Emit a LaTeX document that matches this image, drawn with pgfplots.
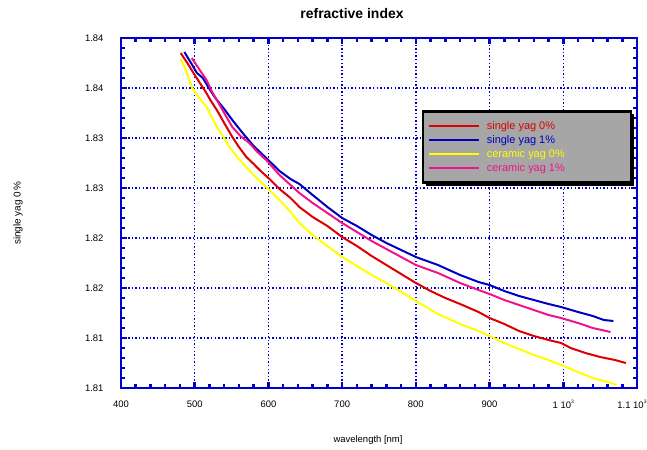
\documentclass[border=0pt]{standalone}
\usepackage{pgfplots}
\pgfplotsset{compat=1.18}
\usepackage{fontspec}
\setmainfont{Liberation Sans}
\usetikzlibrary{shadows}
\definecolor{axblue}{HTML}{0000CC}
\definecolor{sred}{HTML}{DD0000}
\definecolor{sblue}{HTML}{0000C0}
\definecolor{cyellow}{HTML}{FFFF00}
\definecolor{cpink}{HTML}{F0148C}
\definecolor{leggray}{HTML}{A6A6A6}
\makeatletter
\tikzset{no preaction/.code={\let\tikz@preactions\pgfutil@empty}}
\makeatother

\begin{document}
\begin{tikzpicture}
\useasboundingbox (0,0) rectangle (647bp,450bp);
\begin{axis}[
  at={(121bp,62bp)}, anchor=south west,
  scale only axis, width=516bp, height=350bp,
  xmin=400, xmax=1100, ymin=1.81, ymax=1.845,
  xtick={400,500,...,1100},
  xticklabels={400,500,600,700,800,900,{1 10\raisebox{5bp}{\fontsize{5}{5}\selectfont 3}},{\hspace*{-10bp}1.1 10\raisebox{5bp}{\fontsize{5}{5}\selectfont 3}}},
  ytick={1.81,1.815,1.82,1.825,1.83,1.835,1.84,1.845},
  yticklabels={1.81,1.81,1.82,1.82,1.83,1.83,1.84,1.84},
  minor x tick num=4, minor y tick num=4,
  tick align=inside,
  major tick length=6bp, minor tick length=4bp,
  axis line style={axblue, line width=2.5bp},
  every tick/.style={axblue, line width=2.5bp},
  grid=major,
  grid style={draw=axblue},
  major grid style={draw=axblue, line width=1.4bp, dash pattern=on 1.4bp off 2.2bp},
  tick label style={font=\fontsize{9.5}{11}\selectfont},
  xticklabel style={yshift=-9bp},
  yticklabel style={xshift=-14bp},
  legend style={at={(0.583,0.794)}, anchor=north west, fill=leggray, draw=black,
    line width=2.5bp, drop shadow={black, shadow xshift=3bp, shadow yshift=-3bp, opacity=1},
    font=\fontsize{11}{13.5}\selectfont, inner xsep=5bp, inner ysep=8bp,
    row sep=0.5bp},
  legend cell align=left,
  legend image code/.code={\draw[no preaction, #1, line width=1.8bp] (0bp,0bp) -- (50bp,0bp);},
]
\addplot[sred, line width=2bp] coordinates {
(481,1.8435) (490,1.8425) (500,1.8413) (507,1.8405) (515,1.8396) (522,1.8387)
(530,1.8378) (540,1.8365) (551,1.8351) (560,1.8341) (570,1.8331) (580,1.8324)
(588,1.8318) (600,1.8310) (615,1.8299) (630,1.8290) (642,1.8281) (660,1.8271)
(680,1.8262) (700,1.8251) (720,1.8242) (740,1.8232) (760,1.8223) (780,1.8214)
(800,1.8205) (820,1.8197) (840,1.8190) (860,1.8184) (885,1.8176) (900,1.8170)
(920,1.8164) (940,1.8157) (960,1.8152) (980,1.8148) (997,1.8145) (1010,1.8140)
(1030,1.8135) (1050,1.8131) (1070,1.8128) (1085,1.8125)
};
\addplot[sblue, line width=2bp] coordinates {
(486,1.8436) (495,1.8425) (503,1.8415) (511,1.8410) (520,1.8399) (527,1.8391)
(540,1.8379) (551,1.8368) (565,1.8355) (580,1.8342) (597,1.8330) (615,1.8317)
(630,1.8309) (642,1.8304) (660,1.8293) (680,1.8281) (700,1.8270) (720,1.8262)
(740,1.8253) (760,1.8245) (780,1.8238) (800,1.8231) (830,1.8223) (860,1.8213)
(885,1.8206) (900,1.8203) (920,1.8197) (940,1.8192) (960,1.8188) (980,1.8184)
(997,1.8181) (1020,1.8176) (1040,1.8172) (1055,1.8168) (1068,1.8167)
};
\addplot[cyellow, line width=2bp] coordinates {
(481,1.8429) (488,1.8418) (496,1.8401) (505,1.8391) (516,1.8381) (523,1.8371)
(530,1.8361) (540,1.8350) (547,1.8341) (561,1.8328) (580,1.8313) (597,1.8301)
(615,1.8288) (630,1.8276) (642,1.8265) (660,1.8253) (680,1.8242) (700,1.8231)
(720,1.8222) (740,1.8213) (760,1.8205) (780,1.8196) (800,1.8187) (830,1.8174)
(860,1.8164) (885,1.8157) (900,1.8152) (920,1.8145) (940,1.8139) (960,1.8133)
(980,1.8128) (997,1.8123) (1020,1.8116) (1040,1.8110) (1060,1.8106) (1072,1.8103)
};
\addplot[cpink, line width=2bp] coordinates {
(496,1.8430) (505,1.8420) (516,1.8408) (523,1.8397) (530,1.8388) (540,1.8375)
(551,1.8361) (562,1.8352) (574,1.8345) (585,1.8336) (597,1.8328) (615,1.8313)
(630,1.8303) (642,1.8295) (660,1.8285) (680,1.8275) (700,1.8265) (720,1.8256)
(740,1.8247) (760,1.8239) (780,1.8231) (800,1.8223) (830,1.8215) (860,1.8205)
(885,1.8198) (900,1.8194) (920,1.8188) (940,1.8183) (960,1.8178) (980,1.8173)
(997,1.8170) (1020,1.8165) (1040,1.8160) (1064,1.8156)
};
\legend{\makebox[142bp][l]{\hspace*{5bp}\textcolor{sred}{single yag 0\%}},
  \hspace*{5bp}\textcolor{sblue}{single yag 1\%},
  \hspace*{5bp}\textcolor{cyellow}{ceramic yag 0\%},
  \hspace*{5bp}\textcolor{cpink}{ceramic yag 1\%}}
\end{axis}
\node[font=\bfseries\fontsize{14}{16}\selectfont] at (352bp,436bp) {refractive index};
\node[font=\fontsize{9.5}{11}\selectfont] at (368bp,10bp) {wavelength [nm]};
\node[font=\fontsize{10}{11}\selectfont, rotate=90] at (18bp,237bp) {single yag 0\,\%};
\end{tikzpicture}
\end{document}
